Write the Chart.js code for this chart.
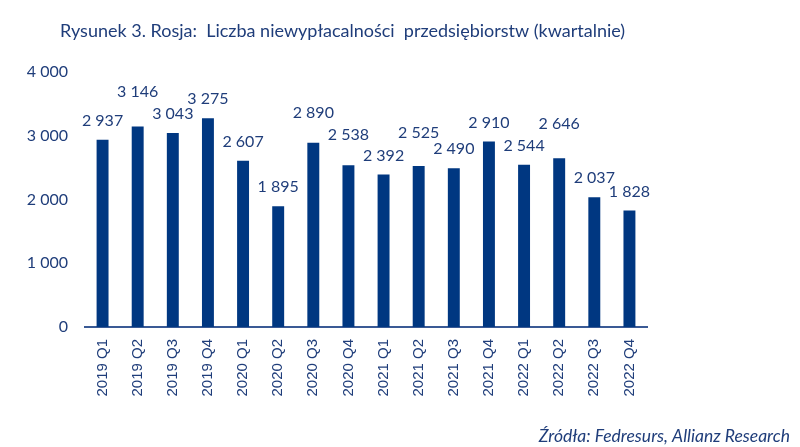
<!DOCTYPE html>
<html>
<head>
<meta charset="utf-8">
<script src="https://cdn.jsdelivr.net/npm/chart.js@4.4.1/dist/chart.umd.min.js"></script>
<style>
  html, body { margin: 0; padding: 0; background: #fff; }
  #wrap { width: 800px; height: 447px; position: relative; }
</style>
</head>
<body>
<div id="wrap"><canvas id="c"></canvas></div>
<script>
const kwartaly = ['2019 Q1', '2019 Q2', '2019 Q3', '2019 Q4', '2020 Q1', '2020 Q2', '2020 Q3', '2020 Q4',
                  '2021 Q1', '2021 Q2', '2021 Q3', '2021 Q4', '2022 Q1', '2022 Q2', '2022 Q3', '2022 Q4'];
const niewyplacalnosci = [2937, 3146, 3043, 3275, 2607, 1895, 2890, 2538, 2392, 2525, 2490, 2910, 2544, 2646, 2037, 1828];
const osY = [0, 1000, 2000, 3000, 4000];

const niebieski = '#003781';
const tekst = '#1F3D7A';
const fontTxt = '"Lato", "Open Sans", sans-serif';

// liczby z odstępem tysięcy: 2 937
const fmt = v => String(v).replace(/\B(?=(\d{3})+(?!\d))/g, ' ');

// etykiety nad słupkami, niektóre podniesione żeby się nie nachodziły
const etykiety = {
  id: 'etykiety',
  afterDatasetsDraw(chart, args, opts) {
    const ctx = chart.ctx;
    const meta = chart.getDatasetMeta(0);
    ctx.save();
    ctx.font = '16px ' + fontTxt;
    ctx.fillStyle = tekst;
    ctx.textAlign = 'center';
    ctx.textBaseline = 'bottom';
    meta.data.forEach((bar, i) => {
      const lift = opts.lift[i] || 0;
      ctx.fillText(fmt(niewyplacalnosci[i]), bar.x, bar.y - 11 - lift);
    });
    ctx.restore();
  }
};

const napisy = {
  id: 'napisy',
  afterDraw(chart) {
    const ctx = chart.ctx;
    ctx.save();
    ctx.fillStyle = tekst;
    ctx.textBaseline = 'middle';
    ctx.textAlign = 'left';
    ctx.font = '18px ' + fontTxt;
    ctx.fillText('Rysunek 3. Rosja:  Liczba niewypłacalności  przedsiębiorstw (kwartalnie)', 60, 31);
    ctx.textAlign = 'right';
    ctx.font = 'italic 17.5px ' + fontTxt;
    ctx.fillText('Źródła: Fedresurs, Allianz Research', 790, 436);
    ctx.restore();
  }
};

new Chart(document.getElementById('c'), {
  type: 'bar',
  data: {
    labels: kwartaly,
    datasets: [{
      data: niewyplacalnosci,
      backgroundColor: niebieski,
      borderWidth: 0,
      barPercentage: 0.68,
      categoryPercentage: 0.5
    }]
  },
  options: {
    responsive: true,
    maintainAspectRatio: false,
    animation: false,
    layout: { padding: { top: 72, right: 153, bottom: 0, left: 0 } },
    plugins: {
      legend: { display: false },
      tooltip: { enabled: false },
      etykiety: { lift: [0, 16, 0, 0, 0, 0, 11, 11, 0, 14, 0, 0, 0, 15, 0, 0] }
    },
    scales: {
      x: {
        grid: { display: false, drawTicks: false },
        border: { display: true, color: '#3A5A95', width: 2 },
        ticks: {
          color: tekst,
          font: { family: '"Liberation Sans", Arial, sans-serif', size: 15 },
          minRotation: 90,
          maxRotation: 90,
          padding: 12,
          autoSkip: false
        },
        afterFit(scale) { scale.height = 120; }
      },
      y: {
        min: 0,
        max: 4000,
        afterBuildTicks(scale) { scale.ticks = osY.map(v => ({ value: v })); },
        grid: { display: false, drawTicks: false },
        border: { display: false },
        ticks: {
          color: tekst,
          font: { family: fontTxt, size: 16 },
          padding: 17,
          callback: v => fmt(v)
        },
        afterFit(scale) { scale.width = 85; }
      }
    }
  },
  plugins: [etykiety, napisy]
});
</script>
</body>
</html>
